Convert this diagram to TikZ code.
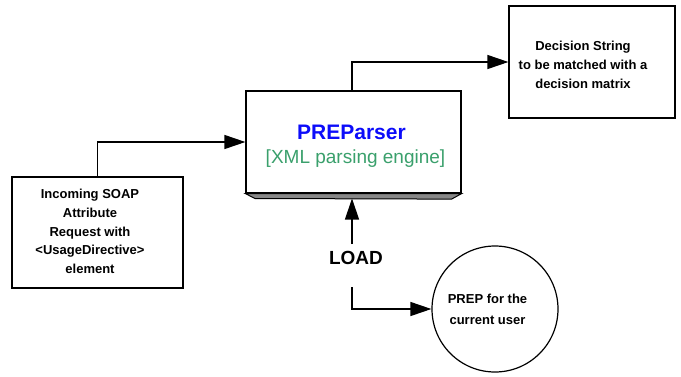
\documentclass[tikz,border=0pt]{standalone}
\usepackage{fontspec}
\setmainfont{Liberation Sans}
\usetikzlibrary{arrows.meta}
\definecolor{parserblue}{RGB}{12,12,250}
\definecolor{enginegreen}{RGB}{58,160,108}
\definecolor{basegray}{RGB}{135,135,135}

\begin{document}
\begin{tikzpicture}[x=1pt,y=-1pt,
  box/.style={draw, line width=1.2pt, fill=white, inner sep=0pt},
  lbl/.style={font=\fontsize{13}{18.6}\selectfont\bfseries, align=center, inner sep=0pt},
  conn/.style={line width=1.2pt, -{Triangle[length=21pt,width=14pt]}}]
\useasboundingbox (0,0) rectangle (681,376);

% boxes
\node[box, minimum width=171pt, minimum height=111pt] (soap) at (97.5,232.5) {};
\node[box, minimum width=215pt, minimum height=102pt] (parser) at (353.5,142) {};
\node[box, minimum width=166pt, minimum height=112pt] (decision) at (592,62) {};
\node[box, circle, minimum size=126pt] (prep) at (495,309) {};

% bevelled base under the parser
\draw[line width=1pt, fill=basegray] (parser.south west) -- (parser.south east)
  -- ++(-10,5.5) coordinate (baseright) -- (255,198.5) coordinate (baseleft) -- cycle;
\coordinate (basebottom) at (352,198.5);

% texts
\node[lbl] (soaptext) at (90,231.5)
  {Incoming SOAP\\Attribute\\Request with\\<UsageDirective>\\element};
\node[lbl, font=\fontsize{13}{19}\selectfont\bfseries] (dectext) at (583,64.5)
  {Decision String\\to be matched with a\\decision matrix};
\node[lbl, font=\fontsize{13}{21}\selectfont\bfseries] (preptext) at (487.5,309.5)
  {PREP for the\\current user};
\node[anchor=base, inner sep=0pt, text=parserblue,
  font=\fontsize{21}{24}\selectfont\bfseries] (ptitle) at (351.5,139.3) {PREParser};
\node[anchor=base, inner sep=0pt, text=enginegreen,
  font=\fontsize{19}{22}\selectfont] (psub) at (355.5,163) {[XML parsing engine]};
\node[inner sep=0pt, font=\fontsize{19}{22}\selectfont\bfseries] (load) at (356,258.3) {LOAD};

% connectors
\coordinate (loadtop) at (352,244);
\coordinate (loadbottom) at (352,287);
\draw[conn] (soap.north) |- (parser.west);
\draw[conn] ([xshift=-1.5pt]parser.north) |- (decision.west);
\draw[conn] (loadtop) -- (basebottom);
\draw[conn] (loadbottom) |- (prep.west);
\end{tikzpicture}
\end{document}
